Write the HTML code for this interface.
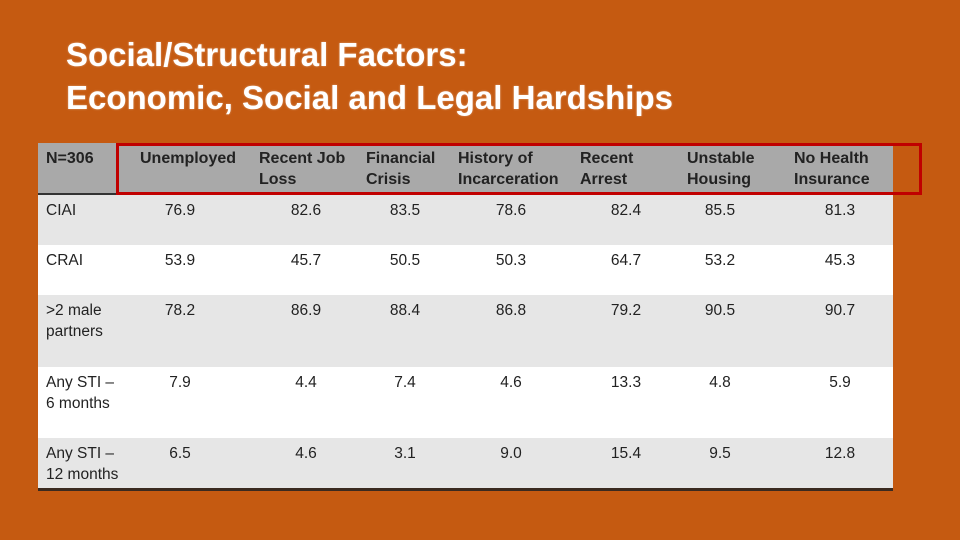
<!DOCTYPE html>
<html><head><meta charset="utf-8"><style>
body{margin:0;width:960px;height:540px;background:#c55a11;position:relative;overflow:hidden;font-family:"Liberation Sans",sans-serif}
.t{position:absolute;left:66px;color:#fff;font-weight:bold;font-size:33px;white-space:nowrap;text-shadow:0 0 2px rgba(255,255,255,.4)}
#tbl{position:absolute;left:38px;top:143px;width:855px;height:345px;border-bottom:3px solid #3a2a20}
.row{position:absolute;left:0;width:855px}
.c{position:absolute;font-size:15.5px;color:#222;line-height:21px;white-space:nowrap}
.h{font-weight:bold;font-size:16px}
.v{transform:translateX(-50%)}
#red{position:absolute;left:116px;top:143px;width:800px;height:46px;border:3px solid #c00000}
</style></head><body>
<div class="t" style="top:36px">Social/Structural Factors:</div>
<div class="t" style="top:79px">Economic, Social and Legal Hardships</div>
<div id="tbl"></div>
<div id="red"></div>
<script>
const headers=["N=306","Unemployed","Recent Job<br>Loss","Financial<br>Crisis","History of<br>Incarceration","Recent<br>Arrest","Unstable<br>Housing","No Health<br>Insurance"];
const headerX=[8,102,221,328,420,542,649,756];
const rowLabels=["CIAI","CRAI",">2 male<br>partners","Any STI –<br>6 months","Any STI –<br>12 months"];
const values=[[76.9,82.6,83.5,78.6,82.4,85.5,81.3],[53.9,45.7,50.5,50.3,64.7,53.2,45.3],[78.2,86.9,88.4,86.8,79.2,90.5,90.7],[7.9,4.4,7.4,4.6,13.3,4.8,5.9],[6.5,4.6,3.1,9.0,15.4,9.5,12.8]];
const rowTops=[0,52,102,152,224,295];
const rowH=[52,50,50,72,71,50];
const rowBg=["#a9a9a9","#e6e6e6","#ffffff","#e6e6e6","#ffffff","#e6e6e6"];
const valX=[142,268,367,473,588,682,802];
const tbl=document.getElementById('tbl');
for(let r=0;r<6;r++){
 const row=document.createElement('div');row.className='row';
 
 
 row.style.top=rowTops[r]+'px';row.style.height=rowH[r]+'px';row.style.background=rowBg[r];
 if(r==0){row.style.borderBottom='2px solid #333';row.style.height='50px';}
 tbl.appendChild(row);
 if(r==0){headers.forEach((h,i)=>{const d=document.createElement('div');d.className='c h';
  
  
  d.style.left=headerX[i]+'px';d.style.top='5px';d.innerHTML=h;row.appendChild(d);});}
 else{
  const l=document.createElement('div');l.className='c';
  
  
  l.style.left='8px';l.style.top='5px';l.innerHTML=rowLabels[r-1];row.appendChild(l);
  values[r-1].forEach((v,i)=>{const d=document.createElement('div');d.className='c v';
   
   
   d.style.left=valX[i]+'px';d.style.top='5px';d.textContent=v.toFixed(1);row.appendChild(d);});
 }
}
</script>
</body></html>
